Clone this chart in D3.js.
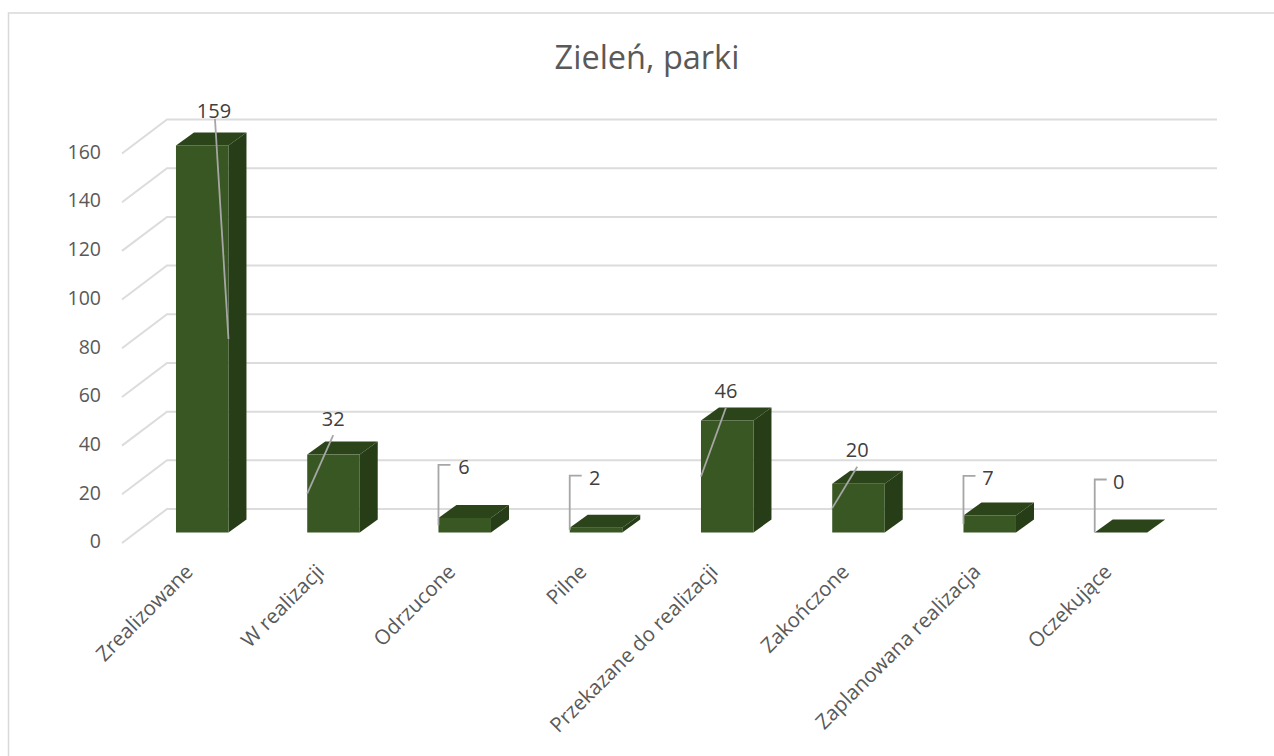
<!DOCTYPE html>
<html>
<head>
<meta charset="utf-8">
<script src="https://cdn.jsdelivr.net/npm/d3@7"></script>
<style>
  html, body { margin: 0; padding: 0; background: #fff; }
  svg { display: block; }
  text { font-family: "Open Sans", "Noto Sans", sans-serif; }
</style>
</head>
<body>
<svg id="chart" width="1274" height="756"></svg>
<script>
const categories = ['Zrealizowane', 'W realizacji', 'Odrzucone', 'Pilne', 'Przekazane do realizacji', 'Zakończone', 'Zaplanowana realizacja', 'Oczekujące'];
const values = [159, 32, 6, 2, 46, 20, 7, 0];
const yTicks = [0, 20, 40, 60, 80, 100, 120, 140, 160];
const chartTitle = 'Zieleń, parki';

// data label centre, relative to the bar's front left corner at its value
const labelDx = [38, 26, 25.5, 25, 25, 25, 24.5, 24];
const labelDy = [-34.5, -36.5, -51, -50, -30, -34, -37.5, -51];
// "s" slants into the bar, "b" is a bracket down the left side
const leaderKind = ['s', 's', 'b', 'b', 's', 's', 'b', 'b'];

const svg = d3.select('#chart');
const depthX = 18, depthY = -13;
const wallX = 45, wallY = -34;

const x = d3.scaleBand()
    .domain(categories)
    .range([136.6, 1186.6])
    .paddingInner(0.6)
    .paddingOuter(0.3);

const y = d3.scaleLinear()
    .domain([0, 160])
    .range([532.5, 143]);

// chart frame, only the top and left edges are in the picture
svg.append('path')
    .attr('d', 'M8.5,756V13H1274')
    .attr('fill', 'none')
    .attr('stroke', '#d9d9d9')
    .attr('stroke-width', 1.5);

svg.append('text')
    .attr('x', 647).attr('y', 69)
    .attr('text-anchor', 'middle')
    .attr('font-size', 32.5)
    .attr('fill', '#595959')
    .text(chartTitle);

// walls: gridline along the back plus the slanted part on the left side
const grid = svg.append('g');
const wallBase = 10.5;
yTicks.forEach(t => {
  const back = y(t) + wallBase + wallY;
  grid.append('path')
      .attr('d', `M122,${back - wallY}L${122 + wallX},${back}H1217`)
      .attr('fill', 'none')
      .attr('stroke', '#dcdcdc')
      .attr('stroke-width', 2);
});

svg.append('g')
    .attr('transform', 'translate(101,9)')
    .call(d3.axisLeft(y).tickValues(yTicks).tickSize(0).tickPadding(0))
    .call(g => g.select('.domain').remove())
    .call(g => g.selectAll('text')
        .attr('font-family', '"Open Sans", "Noto Sans", sans-serif')
        .attr('font-size', 19.5)
        .attr('fill', '#595959'));

// bars: side, top and front faces
const bars = svg.append('g').selectAll('g')
    .data(values)
    .enter().append('g');

const frontColor = '#385723', sideColor = '#263d17', topColor = '#2b4419';

bars.append('path')
    .attr('fill', sideColor)
    .attr('d', (d, i) => {
      const r = x(categories[i]) + x.bandwidth();
      return `M${r},${y(d)}l${depthX},${depthY}V${y(0) + depthY}l${-depthX},${-depthY}Z`;
    });

bars.append('path')
    .attr('fill', topColor)
    .attr('d', (d, i) => {
      const l = x(categories[i]);
      return `M${l},${y(d)}l${depthX},${depthY}h${x.bandwidth()}l${-depthX},${-depthY}Z`;
    });

bars.append('rect')
    .attr('fill', frontColor)
    .attr('x', (d, i) => x(categories[i]))
    .attr('y', d => y(d))
    .attr('width', x.bandwidth())
    .attr('height', d => y(0) - y(d));

// leader lines end half way up the bar
bars.append('path')
    .attr('fill', 'none')
    .attr('stroke', '#a6a6a6')
    .attr('stroke-width', 1.8)
    .attr('d', (d, i) => {
      const l = x(categories[i]);
      const ly = y(d) + labelDy[i];
      if (leaderKind[i] === 'b') {
        return `M${l + 12},${ly - 2}H${l}V${y(d / 2)}`;
      }
      const endX = i === 0 ? l + x.bandwidth() : l;
      const startY = ly + (i === 0 ? 8 : 17);
      return `M${l + labelDx[i] + (i === 0 ? 1 : 0)},${startY}L${endX},${y(d / 2)}`;
    });

bars.append('text')
    .attr('x', (d, i) => x(categories[i]) + labelDx[i])
    .attr('y', (d, i) => y(d) + labelDy[i] + 7.5)
    .attr('text-anchor', 'middle')
    .attr('font-size', 20)
    .attr('fill', '#404040')
    .text(d => d);

// category labels, rotated
svg.append('g').selectAll('text')
    .data(categories)
    .enter().append('text')
    .attr('text-anchor', 'end')
    .attr('font-size', 20.5)
    .attr('fill', '#595959')
    .attr('transform', d => `translate(${x(d) + x.bandwidth() / 2 - 8},${573}) rotate(-45)`)
    .text(d => d);
</script>
</body>
</html>
